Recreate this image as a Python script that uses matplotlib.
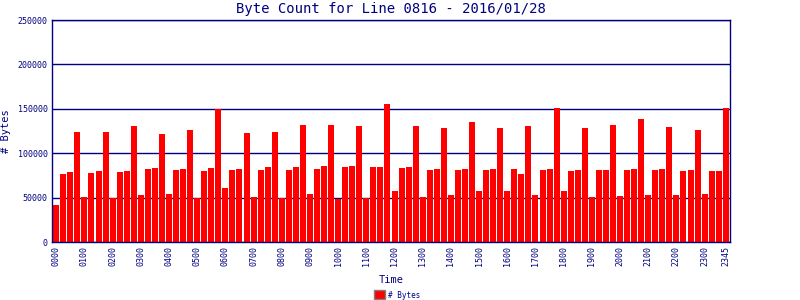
import matplotlib
matplotlib.use("Agg")
import matplotlib.pyplot as plt
from matplotlib.patches import Rectangle

times = [f"{h:02d}{m:02d}" for h in range(24) for m in (0, 15, 30, 45)]
byte_counts = [
    42000, 77000, 79000, 124500, 51000, 78000, 80500, 124500,
    50000, 79000, 80500, 131000, 53500, 82500, 84000, 122000,
    54500, 81500, 82500, 126500, 50000, 80500, 84000, 150000,
    61000, 81500, 82500, 123000, 51000, 81500, 85000, 124500,
    50000, 81500, 85000, 132000, 54500, 82500, 86000, 132000,
    49000, 85000, 86000, 131000, 50000, 85000, 85000, 155000,
    57000, 84000, 85000, 131000, 51000, 81500, 82500, 129000,
    53500, 81500, 82500, 135500, 57000, 81500, 82500, 129000,
    57000, 82500, 77000, 131000, 53500, 81500, 82500, 151500,
    58000, 80500, 81500, 129000, 51000, 81500, 81500, 132000,
    52000, 81500, 82500, 139000, 53500, 81500, 82500, 130000,
    53500, 80500, 81500, 126500, 54500, 80500, 80500, 151500,
]
y_ticks = [0, 50000, 100000, 150000, 200000, 250000]
title = "Byte Count for Line 0816 - 2016/01/28"

navy = "#000080"
mono = "DejaVu Sans Mono"

fig = plt.figure(figsize=(8, 3), dpi=100)
ax = fig.add_axes([0.065, 0.193, 0.8475, 0.74])

x = list(range(len(byte_counts)))
ax.bar(x, byte_counts, width=0.85, color="#ff0000", zorder=3)
ax.set_xlim(-0.6, len(byte_counts) - 0.4)
ax.set_ylim(0, 250000)

ax.set_yticks(y_ticks)
ax.set_yticklabels([str(v) for v in y_ticks], fontsize=6, family=mono, color=navy)
ax.grid(axis="y", color=navy, linewidth=1, zorder=1)

tick_idx = list(range(0, len(times), 4)) + [len(times) - 1]
ax.set_xticks(tick_idx)
ax.set_xticklabels([times[i] for i in tick_idx], rotation=90, fontsize=6,
                   family=mono, color=navy)
ax.tick_params(axis="both", length=0, pad=3)

for s in ax.spines.values():
    s.set_color(navy)
    s.set_linewidth(1)
    s.set_zorder(4)

ax.set_title(title, fontsize=10, family=mono, color=navy, pad=5)
ax.set_xlabel("Time", fontsize=7.5, family=mono, color=navy, labelpad=6)
ax.set_ylabel("# Bytes", fontsize=7.5, family=mono, color=navy, labelpad=5)

# legend
fig.patches.append(Rectangle((374 / 800, 1 - 299 / 300), 11 / 800, 9 / 300,
                             transform=fig.transFigure, facecolor="#ff0000",
                             edgecolor="#808080", linewidth=1))
fig.text(388 / 800, 1 - 295 / 300, "# Bytes", fontsize=5.5, family=mono,
         color=navy, va="center", ha="left")

fig.savefig("out.png", dpi=100, facecolor="white")
